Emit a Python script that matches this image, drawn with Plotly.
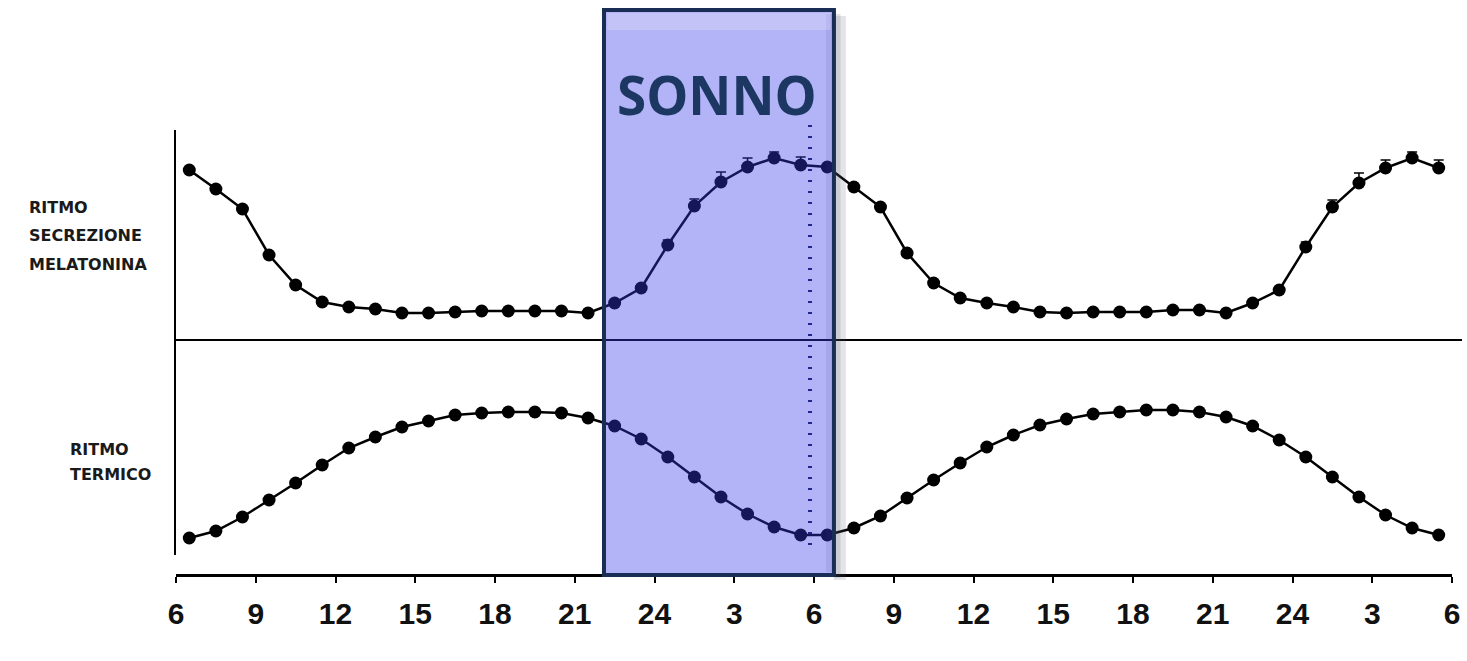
import plotly.graph_objects as go

# Hourly samples (clock time, hours from 06:00 of day 1), plotted over two days
hours = [6.5, 7.5, 8.5, 9.5, 10.5, 11.5, 12.5, 13.5, 14.5, 15.5, 16.5, 17.5,
         18.5, 19.5, 20.5, 21.5, 22.5, 23.5, 24.5, 25.5, 26.5, 27.5, 28.5, 29.5,
         30.5, 31.5, 32.5, 33.5, 34.5, 35.5, 36.5, 37.5, 38.5, 39.5, 40.5, 41.5,
         42.5, 43.5, 44.5, 45.5, 46.5, 47.5, 48.5, 49.5, 50.5, 51.5, 52.5, 53.5]

# Melatonin secretion (arbitrary units)
melatonina = [17.0, 15.1, 13.1, 8.5, 5.5, 3.8, 3.3, 3.1, 2.7, 2.7, 2.8, 2.9,
              2.9, 2.9, 2.9, 2.7, 3.7, 5.2, 9.5, 13.4, 15.8, 17.3, 18.2, 17.5,
              17.3, 15.3, 13.3, 8.7, 5.7, 4.2, 3.7, 3.3, 2.8, 2.7, 2.8, 2.8,
              2.8, 3.0, 3.0, 2.7, 3.7, 5.0, 9.3, 13.3, 15.7, 17.2, 18.2, 17.2]
melatonina_err = [0, 0, 0, 0, 0, 0, 0, 0, 0, 0, 0, 0,
                  0, 0, 0, 0, 0, 0, 0.5, 0.7, 1.0, 0.9, 0.6, 0.8,
                  0, 0, 0, 0, 0, 0, 0, 0, 0, 0, 0, 0,
                  0, 0, 0, 0, 0, 0, 0.5, 0.7, 1.0, 0.8, 0.6, 0.8]

# Body temperature (deg C)
temperatura = [36.37, 36.44, 36.58, 36.75, 36.92, 37.10, 37.27, 37.38, 37.48, 37.54, 37.60, 37.62,
               37.63, 37.63, 37.62, 37.57, 37.49, 37.36, 37.18, 36.98, 36.78, 36.61, 36.48, 36.40,
               36.40, 36.47, 36.59, 36.77, 36.95, 37.12, 37.28, 37.40, 37.50, 37.56, 37.61, 37.63,
               37.65, 37.65, 37.63, 37.58, 37.49, 37.35, 37.18, 36.98, 36.78, 36.60, 36.47, 36.40]

tick_vals = [6, 9, 12, 15, 18, 21, 24, 27, 30, 33, 36, 39, 42, 45, 48, 51, 54]
tick_text = ["6", "9", "12", "15", "18", "21", "24", "3", "6",
             "9", "12", "15", "18", "21", "24", "3", "6"]

# Sleep window and the 06:00 reference
sonno_start, sonno_end = 22.1, 30.75
ore_sei = 29.85

W, H = 1467, 661


def py(px):
    """paper y fraction from a pixel row measured from the top"""
    return 1 - px / H


def pxx(px):
    return px / W


fig = go.Figure()

fig.add_trace(go.Scatter(
    x=hours, y=melatonina, xaxis="x", yaxis="y",
    mode="lines+markers",
    line=dict(color="black", width=2.5),
    marker=dict(color="black", size=13),
    error_y=dict(type="data", symmetric=False, array=melatonina_err,
                 arrayminus=[0] * len(melatonina_err),
                 color="black", thickness=1.5, width=5),
    showlegend=False, hoverinfo="skip",
))

fig.add_trace(go.Scatter(
    x=hours, y=temperatura, xaxis="x", yaxis="y2",
    mode="lines+markers",
    line=dict(color="black", width=2.5),
    marker=dict(color="black", size=13),
    showlegend=False, hoverinfo="skip",
))

shapes = [
    # baseline separating the two rhythms
    dict(type="line", xref="paper", yref="paper",
         x0=pxx(176), x1=pxx(1462), y0=py(340), y1=py(340),
         line=dict(color="black", width=2), layer="above"),
    # 06:00 marker
    dict(type="line", xref="x", yref="paper",
         x0=ore_sei, x1=ore_sei, y0=py(545), y1=py(122),
         line=dict(color="rgb(20,30,80)", width=4, dash="2px,9px"), layer="above"),
    # soft shadow on the right of the sleep box
    dict(type="rect", xref="x", yref="paper",
         x0=sonno_end, x1=sonno_end + 0.45, y0=py(580), y1=py(16),
         fillcolor="rgba(90,90,110,0.16)", line=dict(width=0), layer="above"),
    dict(type="rect", xref="x", yref="paper",
         x0=sonno_end, x1=sonno_end + 0.25, y0=py(578), y1=py(14),
         fillcolor="rgba(90,90,110,0.16)", line=dict(width=0), layer="above"),
    # sleep box
    dict(type="rect", xref="x", yref="paper",
         x0=sonno_start, x1=sonno_end, y0=py(575), y1=py(10),
         fillcolor="rgba(55,55,235,0.38)",
         line=dict(color="rgb(25,45,85)", width=4), layer="above"),
    # slightly darker band along the inner right edge
    dict(type="rect", xref="x", yref="paper",
         x0=sonno_end - 0.3, x1=sonno_end - 0.05, y0=py(572), y1=py(14),
         fillcolor="rgba(60,60,140,0.10)", line=dict(width=0), layer="above"),
    # bevel highlight along the top edge
    dict(type="rect", xref="x", yref="paper",
         x0=sonno_start + 0.12, x1=sonno_end - 0.12, y0=py(30), y1=py(13),
         fillcolor="rgba(255,255,255,0.22)", line=dict(width=0), layer="above"),
]

label_font = dict(family="DejaVu Sans", size=16, color="#1a1a1a", weight="bold")
annotations = [
    dict(text="SONNO", xref="paper", yref="paper",
         x=pxx(717), y=py(95),
         showarrow=False, xanchor="center", yanchor="middle",
         font=dict(family="Open Sans", size=53, color="rgb(28,55,98)", weight="bold")),
    dict(text="RITMO", xref="paper", yref="paper", x=pxx(27), y=py(208),
         showarrow=False, xanchor="left", yanchor="middle", font=label_font),
    dict(text="SECREZIONE", xref="paper", yref="paper", x=pxx(27), y=py(236),
         showarrow=False, xanchor="left", yanchor="middle", font=label_font),
    dict(text="MELATONINA", xref="paper", yref="paper", x=pxx(27), y=py(264),
         showarrow=False, xanchor="left", yanchor="middle", font=label_font),
    dict(text="RITMO", xref="paper", yref="paper", x=pxx(68), y=py(449),
         showarrow=False, xanchor="left", yanchor="middle", font=label_font),
    dict(text="TERMICO", xref="paper", yref="paper", x=pxx(68), y=py(474),
         showarrow=False, xanchor="left", yanchor="middle", font=label_font),
]

fig.update_layout(
    width=W, height=H,
    margin=dict(l=0, r=0, t=0, b=0, autoexpand=False),
    paper_bgcolor="white", plot_bgcolor="rgba(0,0,0,0)",
    xaxis=dict(
        domain=[pxx(176), pxx(1452)], range=[6, 54],
        anchor="free", position=py(575),
        showline=True, linecolor="black", linewidth=2.5,
        ticks="outside", ticklen=6, tickwidth=2, tickcolor="black",
        tickvals=tick_vals, ticktext=tick_text,
        tickfont=dict(family="Liberation Sans", size=30, color="#111", weight="bold"),
        ticklabelstandoff=5, automargin=False,
        showgrid=False, zeroline=False, fixedrange=True,
    ),
    yaxis=dict(
        domain=[py(340), py(130)], range=[0, 21], anchor="x",
        showline=True, linecolor="black", linewidth=2, automargin=False,
        showticklabels=False, ticks="", showgrid=False, zeroline=False,
    ),
    yaxis2=dict(
        domain=[py(555), py(340)], range=[36.2, 38.35], anchor="x",
        showline=True, linecolor="black", linewidth=2, automargin=False,
        showticklabels=False, ticks="", showgrid=False, zeroline=False,
    ),
    shapes=shapes,
    annotations=annotations,
)

fig.write_html("out.html", config={"displayModeBar": False})
